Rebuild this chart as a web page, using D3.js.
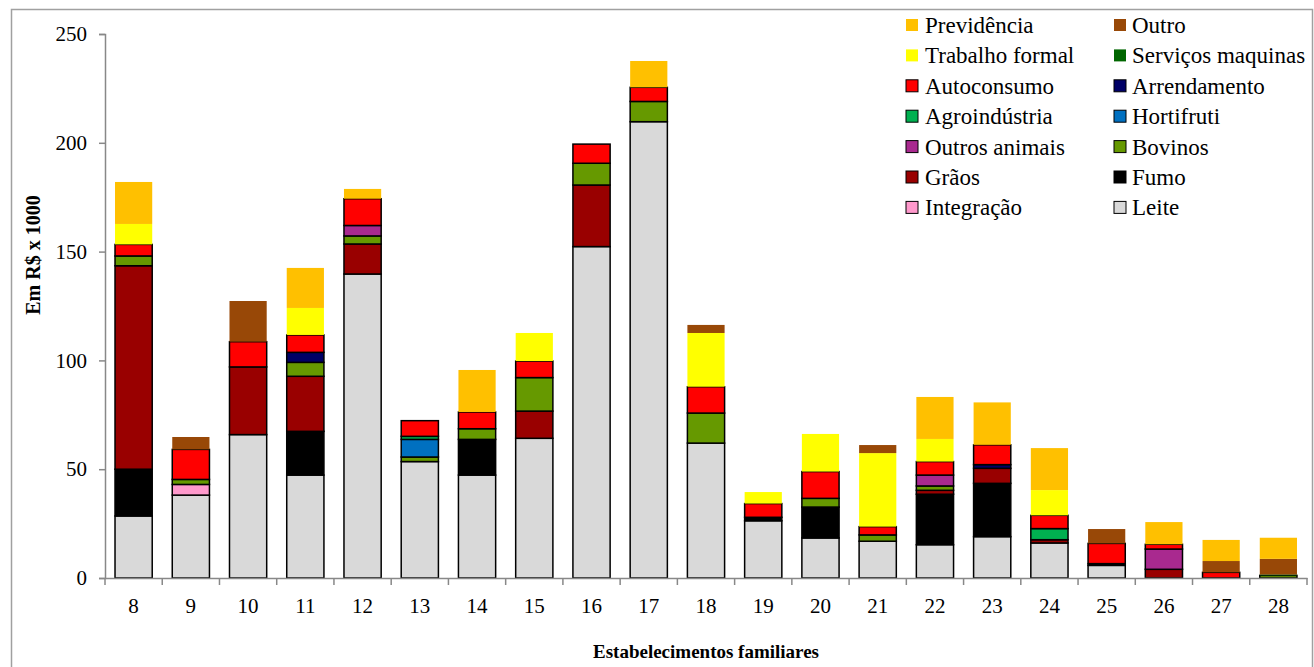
<!DOCTYPE html>
<html><head><meta charset="utf-8">
<script src="https://cdn.jsdelivr.net/npm/d3@7"></script>
<style>body{margin:0;background:#fff}svg{display:block}</style>
</head><body><svg id="c" width="1314" height="667" font-family="Liberation Serif, Times New Roman, serif"></svg>
<script>
const categories = ["8","9","10","11","12","13","14","15","16","17","18","19","20","21","22","23","24","25","26","27","28"];
const seriesNames = ["Leite","Integração","Fumo","Grãos","Bovinos","Outros animais","Hortifruti","Agroindústria","Arrendamento","Autoconsumo","Serviços maquinas","Trabalho formal","Outro","Previdência"];
const seriesColors = ["#D9D9D9","#FF99CC","#000000","#990000","#669900","#A9298F","#0070C0","#00B050","#000066","#FF0000","#006600","#FFFF00","#984807","#FFC000"];
const seriesStroked = [true,true,true,true,true,true,true,true,true,true,false,false,false,false];
//                     8     9     10    11    12    13    14    15    16    17    18    19    20    21    22    23    24    25    26    27    28
const leite        = [28.5, 38.1, 65.9, 47.3,139.7, 53.5, 47.3, 64.2,152.3,209.7, 62.0, 26.3, 18.4, 16.9, 15.3, 19.0, 16.1,  5.8,  0,    0,    0  ];
const integracao   = [0,    4.9,  0,    0,    0,    0,    0,    0,    0,    0,    0,    0,    0,    0,    0,    0,    0,    0,    0,    0,    0  ];
const fumo         = [21.5, 0,    0,   20.1,  0,    0,   16.4,  0,    0,    0,    0,    1.6, 14.2,  0,   23.2, 24.5,  0,    0.8,  0,    0,    0  ];
const graos        = [93.5, 0,   31.1, 25.3, 13.8,  0,    0,   12.5, 28.3,  0,    0,    0,    0,    0,    1.8,  6.9,  1.5,  0,    4.0,  0,    0  ];
const bovinos      = [4.5,  2.3,  0,    6.4,  3.7,  2.1,  4.9, 15.4, 10.0,  9.3, 13.8,  0,    4.0,  2.9,  2.0,  0,    0,    0,    0,    0,    1.2];
const outrosAnimais= [0,    0,    0,    0,    4.8,  0,    0,    0,    0,    0,    0,    0,    0,    0,    5.0,  0,    0,    0,    9.3,  0,    0  ];
const hortifruti   = [0,    0,    0,    0,    0,    8.1,  0,    0,    0,    0,    0,    0,    0,    0,    0,    0,    0,    0,    0,    0,    0  ];
const agroindustria= [0,    0,    0,    0,    0,    1.4,  0,    0,    0,    0,    0,    0,    0,    0,    0,    0,    5.1,  0,    0,    0,    0  ];
const arrendamento = [0,    0,    0,    4.6,  0,    0,    0,    0,    0,    0,    0,    0,    0,    0,    0,    1.7,  0,    0,    0,    0,    0  ];
const autoconsumo  = [5.3, 13.8, 11.6,  8.0, 12.3,  7.2,  7.7,  7.6,  8.8,  6.5, 12.1,  6.3, 12.3,  3.8,  6.2,  9.1,  6.1,  9.3,  2.2,  2.6,  0  ];
const servicos     = [0,    0,    0,    0,    0,    0,    0,    0,    0,    0,    0,    0,    0,    0,    0,    0,    0,    0,    0,    0,    0.4];
const trabalho     = [9.4,  0,    0,   12.4,  0,    0,    0,   12.9,  0,    0,   24.7,  5.3, 17.3, 33.8, 10.4,  0,   11.6,  0,    0,    0,    0  ];
const outro        = [0,    5.7, 18.7,  0,    0,    0,    0,    0,    0,    0,    3.7,  0,    0,    3.7,  0,    0,    0,    6.6,  0,    5.2,  7.2];
const previdencia  = [19.3, 0,    0,   18.4,  4.5,  0,   19.3,  0,    0,   12.1,  0,    0,    0,    0,   19.3, 19.5, 19.3,  0,   10.2,  9.7,  9.7];
const yTicks = [0,50,100,150,200,250];
const legendLeft = ["Previdência","Trabalho formal","Autoconsumo","Agroindústria","Outros animais","Grãos","Integração"];
const legendRight = ["Outro","Serviços maquinas","Arrendamento","Hortifruti","Bovinos","Fumo","Leite"];

const FONT = "Liberation Serif, Times New Roman, serif";
const seriesValues = [leite,integracao,fumo,graos,bovinos,outrosAnimais,hortifruti,agroindustria,arrendamento,autoconsumo,servicos,trabalho,outro,previdencia];
const rows = categories.map((c,i)=>{const o={cat:c};seriesNames.forEach((s,j)=>o[s]=seriesValues[j][i]);return o;});

const svg = d3.select("#c");
svg.append("rect").attr("x",11.5).attr("y",9.5).attr("width",1301).attr("height",700)
  .attr("fill","none").attr("stroke","#a0a0a0").attr("stroke-width",1.5);

const x = d3.scaleBand().domain(categories).range([105,1307]).paddingInner(0.35).paddingOuter(0.175);
const y = d3.scaleLinear().domain([0,250]).range([578,34]);
const stack = d3.stack().keys(seriesNames)(rows);

const g = svg.append("g");
stack.forEach((layer,j)=>{
  g.append("g").selectAll("rect").data(layer.filter(d=>d[1]-d[0]>0)).join("rect")
    .attr("x",d=>x(d.data.cat)).attr("width",x.bandwidth())
    .attr("y",d=>y(d[1])).attr("height",d=>y(d[0])-y(d[1]))
    .attr("fill",seriesColors[j])
    .attr("stroke",seriesStroked[j]?"#000":"none").attr("stroke-width",1.5);
});

// y axis
const ya = svg.append("g").attr("transform","translate(105,0)")
  .call(d3.axisLeft(y).tickValues(yTicks).tickSize(6).tickPadding(12));
ya.attr("font-family",FONT);
ya.select(".domain").attr("stroke","#888").attr("stroke-width",1.5);
ya.selectAll(".tick line").attr("stroke","#888").attr("stroke-width",1.5);
ya.selectAll(".tick text").attr("font-size",21).attr("fill","#000");

// x axis
const xa = svg.append("g").attr("transform","translate(0,578)")
  .call(d3.axisBottom(x).tickSize(0).tickPadding(20));
xa.attr("font-family",FONT);
xa.select(".domain").attr("stroke","#888").attr("stroke-width",1.5);
xa.selectAll(".tick text").attr("font-size",21).attr("fill","#000");
const step = x.step();
xa.selectAll(".bnd").data(d3.range(categories.length+1)).join("line")
  .attr("x1",i=>105+i*step).attr("x2",i=>105+i*step).attr("y1",0).attr("y2",7)
  .attr("stroke","#888").attr("stroke-width",1.5);

svg.append("text").attr("x",706).attr("y",658).attr("text-anchor","middle")
  .attr("font-size",19).attr("font-weight","bold").text("Estabelecimentos familiares");
svg.append("text").attr("transform","translate(40,255) rotate(-90)").attr("text-anchor","middle")
  .attr("font-size",20).attr("font-weight","bold").text("Em R$ x 1000");

// legend
function legendCol(names, sx, tx){
  names.forEach((n,i)=>{
    const j = seriesNames.indexOf(n);
    const cy = 25 + i*30.4;
    svg.append("rect").attr("x",sx).attr("y",cy-6).attr("width",12).attr("height",12)
      .attr("fill",seriesColors[j]).attr("stroke",seriesStroked[j]?"#000":"none").attr("stroke-width",1);
    svg.append("text").attr("x",tx).attr("y",cy+8).attr("font-size",23).text(n);
  });
}
legendCol(legendLeft,906,925);
legendCol(legendRight,1114,1132);
</script></body></html>
